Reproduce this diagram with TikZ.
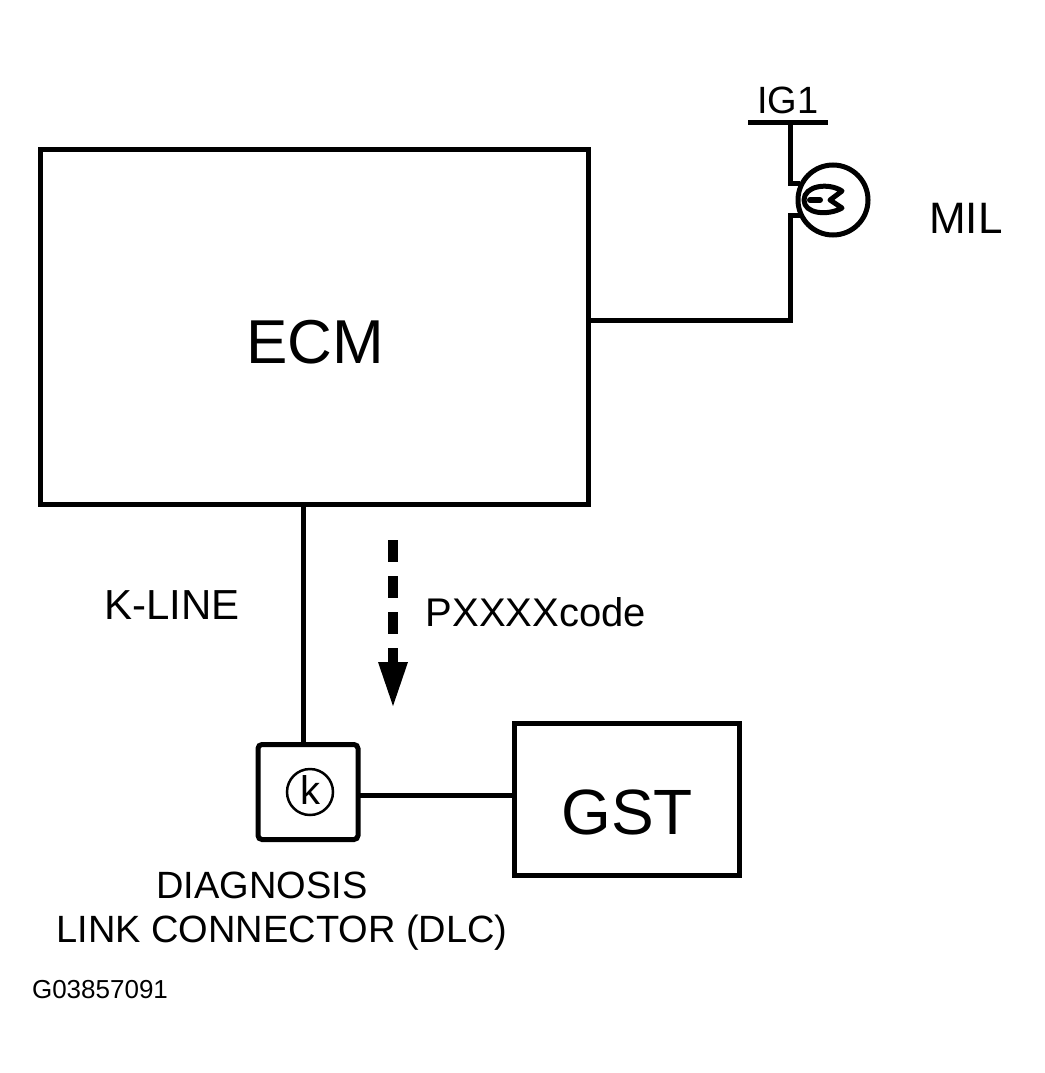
\documentclass[tikz,border=0pt]{standalone}
\usepackage{fontspec}
\setmainfont{Liberation Sans}
\usetikzlibrary{arrows.meta}
\newcommand{\fs}[1]{\fontsize{#1}{#1}\selectfont}
\begin{document}
\begin{tikzpicture}[x=1pt,y=-1pt,line width=5pt,
  box/.style={draw,line width=5pt,inner sep=0pt},
  lbl/.style={inner sep=0pt,anchor=center}]
\useasboundingbox (0,0) rectangle (1044,1073);
% boxes
\node[box,minimum width=548pt,minimum height=355pt] (ecm) at (314,327) {};
\node[lbl] at (315,342) {\fs{62}ECM};
\node[box,minimum width=225pt,minimum height=152pt] (gst) at (627,799) {};
\node[lbl] at (627,812) {\fs{64}GST};
\node[box,rounded corners=4pt,minimum width=100pt,minimum height=95pt] (dlc) at (308,792) {};
\node[draw,circle,line width=2.5pt,minimum size=46pt,inner sep=0pt] (k) at (310,792) {};
\node[lbl] at (310,790) {\fs{40}k};
% wires
\draw (ecm.south -| 303,0) -- (303,745);
\draw (358,795) -- (gst.west |- 0,795);
\draw (ecm.east |- 0,320) -- (790,320) -- (790,215) -- (800,215);
\node[draw,circle,line width=5pt,minimum size=70pt,inner sep=0pt] (lamp) at (833,200) {};
\draw (800,183) -- (790,183) -- (790,122);
\draw (748,122) -- (828,122);
\draw[line width=5pt,line join=round] (842,191) .. controls (828,182) and (804,186) .. (804,200)
  .. controls (804,214) and (828,216) .. (842,208) -- (830,200) -- cycle;
\draw[line width=6pt,line cap=round] (810,200) -- (820,200);
% dashed arrow
\draw[line width=10pt,dash pattern=on 22pt off 14pt] (393,540) -- (393,665);
\fill (378,662) -- (408,662) -- (393,706) -- cycle;
% labels
\node[lbl] at (788,100) {\fs{38}IG1};
\node[lbl] at (966,218) {\fs{44}MIL};
\node[lbl] at (172,605) {\fs{42}K-LINE};
\node[lbl] at (536,612) {\fs{40}PXXXXcode};
\node[lbl] at (262,885) {\fs{38}DIAGNOSIS};
\node[lbl] at (282,933) {\fs{38}LINK CONNECTOR (DLC)};
\node[lbl] at (100,990) {\fs{26}G03857091};
\end{tikzpicture}
\end{document}
